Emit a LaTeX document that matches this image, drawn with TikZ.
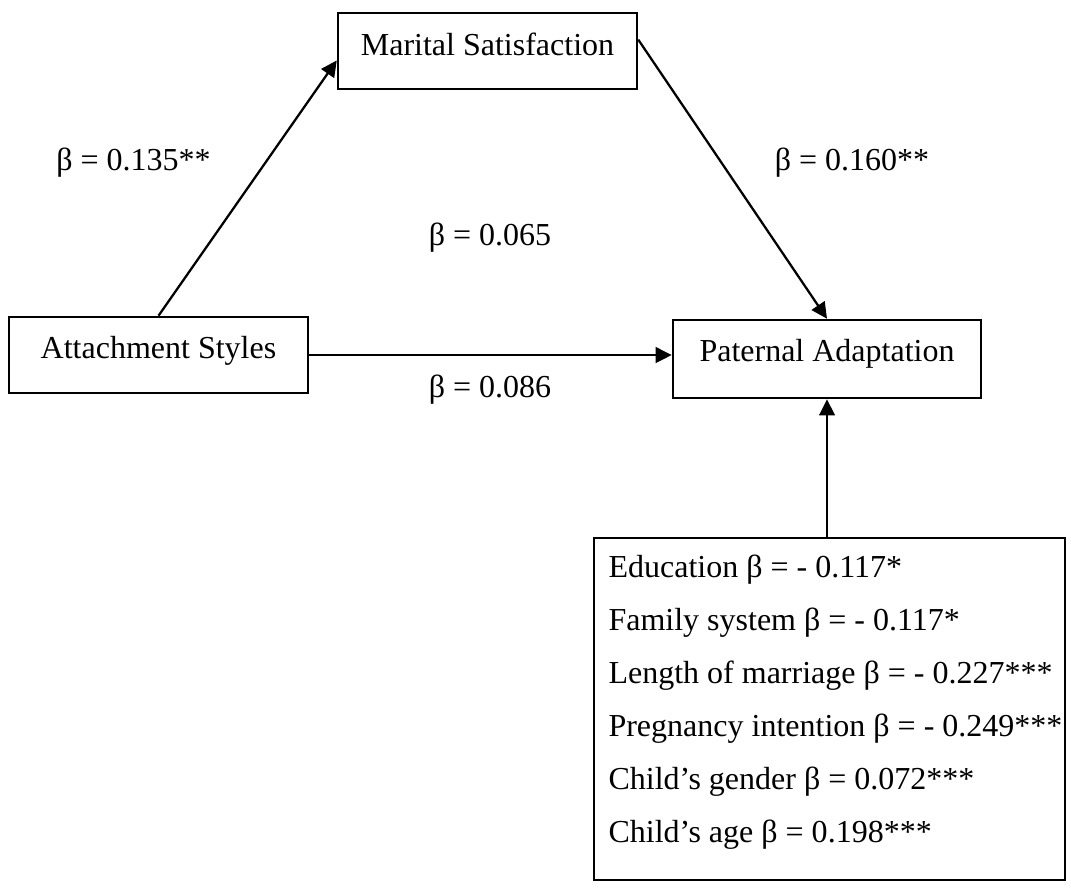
\documentclass[tikz,border=0pt]{standalone}
\usepackage{fontspec}
\setmainfont{Liberation Serif}
\usetikzlibrary{arrows.meta,calc}
\begin{document}
\begin{tikzpicture}[x=0.375pt,y=-0.375pt,
  every node/.style={font=\fontsize{12pt}{14pt}\selectfont, inner sep=0pt},
  box/.style={draw, line width=0.95pt, inner sep=0pt},
  arr/.style={-{Triangle[length=6pt,width=5.8pt]}, line width=0.85pt},
  lbl/.style={anchor=base},
  cvline/.style={anchor=base west}]
\useasboundingbox (0,0) rectangle (1071,888);
% boxes
\node[box, minimum width=112.1pt, minimum height=28.5pt, text height=9pt, text depth=6pt] (ms) at (487.5,51) {Marital Satisfaction};
\node[box, minimum width=112.1pt, minimum height=28.5pt, text height=8.25pt, text depth=6pt] (as) at (158.5,355) {Attachment Styles};
\node[box, minimum width=115.5pt, minimum height=29.25pt, text height=7.5pt, text depth=6pt] (pa) at (827,359) {Paternal Adaptation};
\node[box, minimum width=176.6pt, minimum height=128.25pt] (cv) at (829.5,709) {};
% covariate lines
\node[cvline] (c1) at (608,577) {Education β = - 0.117*};
\node[cvline] (c2) at (608,630) {Family system β = - 0.117*};
\node[cvline] (c3) at (608,683) {Length of marriage β = - 0.227***};
\node[cvline] (c4) at (608,736) {Pregnancy intention β = - 0.249***};
\node[cvline] (c5) at (608,789) {Child’s gender β = 0.072***};
\node[cvline] (c6) at (608,842) {Child’s age β = 0.198***};
% arrows
\draw[arr] (as.north) -- ($(ms.north west)!0.62!(ms.south west)$);
\draw[arr] ($(ms.north east)!0.355!(ms.south east)$) -- (pa.north);
\draw[arr] (as.east) -- (as.east -| pa.west);
\draw[arr] (cv.north -| pa.south) -- (pa.south);
% path labels
\node[lbl] (l1) at (133.5,170) {β = 0.135**};
\node[lbl] (l2) at (852,170) {β = 0.160**};
\node[lbl] (l3) at (490,245) {β = 0.065};
\node[lbl] (l4) at (490,397) {β = 0.086};
\end{tikzpicture}
\end{document}
